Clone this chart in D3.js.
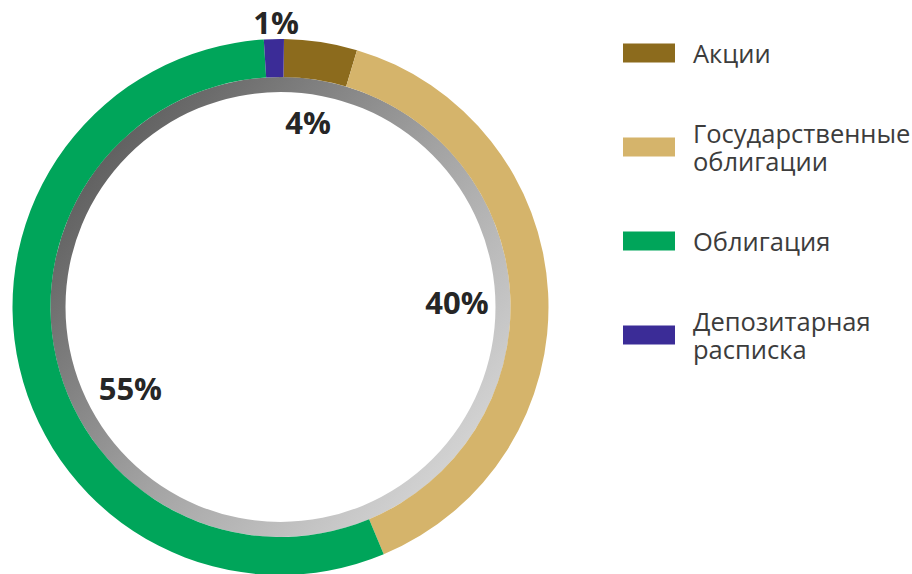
<!DOCTYPE html>
<html>
<head>
<meta charset="utf-8">
<script src="https://cdn.jsdelivr.net/npm/d3@7"></script>
<style>
  body { margin: 0; background: #fff; }
</style>
</head>
<body>
<script>
// shares of the portfolio, clockwise from the top
var categories = ["Акции", "Государственные облигации", "Облигация", "Депозитарная расписка"];
var values = [4.4, 39.1, 55.3, 1.2];
var labels = ["4%", "40%", "55%", "1%"];
var colors = ["#8c6b1d", "#d5b46b", "#00a55a", "#3b2c97"];
var legendLines = [["Акции"], ["Государственные", "облигации"], ["Облигация"], ["Депозитарная", "расписка"]];

var w = 912, h = 574;
var cx = 280.5, cy = 307;
var rOuter = 268, rInner = 230, rGray = 215;

var svg = d3.select("body").append("svg")
  .attr("width", w)
  .attr("height", h);

var defs = svg.append("defs");
var grad = defs.append("linearGradient")
  .attr("id", "ringGrad")
  .attr("gradientUnits", "userSpaceOnUse")
  .attr("x1", -200).attr("y1", -140)
  .attr("x2", 190).attr("y2", 190);
grad.append("stop").attr("offset", "0%").attr("stop-color", "#5e5e5e");
grad.append("stop").attr("offset", "50%").attr("stop-color", "#a2a2a2");
grad.append("stop").attr("offset", "100%").attr("stop-color", "#dadada");

var g = svg.append("g").attr("transform", "translate(" + cx + "," + cy + ")");

// inner gray ring
g.append("path")
  .attr("d", d3.arc().innerRadius(rGray).outerRadius(rInner).startAngle(0).endAngle(2 * Math.PI)())
  .attr("fill", "url(#ringGrad)");

var start = 0.013;
var pie = d3.pie().sort(null).startAngle(start).endAngle(start + 2 * Math.PI);
var arcs = pie(values);
var arc = d3.arc().innerRadius(rInner).outerRadius(rOuter);

g.selectAll("path.slice")
  .data(arcs)
  .enter()
  .append("path")
  .attr("class", "slice")
  .attr("d", arc)
  .attr("fill", function(d, i) { return colors[i]; });

// percentage label placement (angle from top, radius)
var labelAt = [
  { a: 0.148, r: 187 },   // 4%
  { a: 1.5425, r: 176.6 }, // 40%
  { a: 4.22, r: 170.4 },  // 55%
  { a: -0.0158, r: 285 }  // 1%
];
g.selectAll("text.pct")
  .data(arcs)
  .enter()
  .append("text")
  .attr("class", "pct")
  .attr("text-anchor", "middle")
  .attr("dominant-baseline", "central")
  .attr("font-family", "'Open Sans', sans-serif")
  .attr("font-weight", "bold")
  .attr("font-size", 31)
  .attr("fill", "#262626")
  .attr("x", function(d, i) { return Math.sin(labelAt[i].a) * labelAt[i].r; })
  .attr("y", function(d, i) { return -Math.cos(labelAt[i].a) * labelAt[i].r; })
  .text(function(d, i) { return labels[i]; });

// legend
var legendY = d3.scalePoint().domain(categories).range([53, 335]);
var legend = svg.append("g");
var items = legend.selectAll("g")
  .data(categories)
  .enter()
  .append("g")
  .attr("transform", function(d) { return "translate(623," + legendY(d) + ")"; });

items.append("rect")
  .attr("x", 0).attr("y", -9.5)
  .attr("width", 52).attr("height", 19)
  .attr("fill", function(d, i) { return colors[i]; });

items.append("text")
  .attr("font-family", "'Open Sans', sans-serif")
  .attr("font-size", 25.5)
  .attr("fill", "#3c3c3c")
  .each(function(d, i) {
    var lines = legendLines[i];
    var t = d3.select(this);
    var startY = lines.length === 1 ? 10 : -4;
    lines.forEach(function(line, j) {
      t.append("tspan")
        .attr("x", 70)
        .attr("y", startY + j * 28)
        .text(line);
    });
  });
</script>
</body>
</html>
